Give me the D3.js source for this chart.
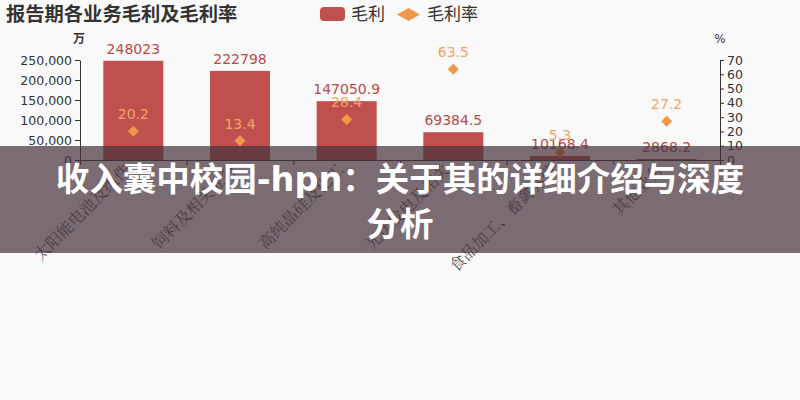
<!DOCTYPE html>
<html>
<head>
<meta charset="utf-8">
<script src="https://cdn.jsdelivr.net/npm/d3@7/dist/d3.min.js"></script>
<style>
  html, body { margin: 0; padding: 0; background: #f9f9f9; }
  svg { display: block; }
</style>
</head>
<body>
<svg id="chart" width="800" height="400"></svg>
<script>
const categories = ["太阳能电池及组件", "饲料及相关业务", "高纯晶硅及化工", "光伏发电及相关", "食品加工、畜禽养殖", "其他业务"];
const grossProfit = [248023, 222798, 147050.9, 69384.5, 10168.4, 2868.2];
const grossRate = [20.2, 13.4, 28.4, 63.5, 5.3, 27.2];
const leftTicks = [0, 50000, 100000, 150000, 200000, 250000];
const rightTicks = [0, 10, 20, 30, 40, 50, 60, 70];
const titleText = "报告期各业务毛利及毛利率";
const legendLabels = ["毛利", "毛利率"];
const overlayLines = ["收入囊中校园-hpn：关于其的详细介绍与深度", "分析"];

const svg = d3.select("#chart");
const W = 800, H = 400;
const m = { left: 80, right: 720, top: 60, bottom: 160 };
const barColor = "#c0504d", barLabelColor = "#b94a48";
const rateColor = "#f0984a", rateLabelColor = "#f2a468";
const sans = "'DejaVu Sans', sans-serif";
const cjk = "'Noto Sans CJK SC', sans-serif";

svg.append("rect").attr("width", W).attr("height", H).attr("fill", "#f9f9f9");

const x = d3.scaleBand().domain(categories).range([m.left, m.right]).paddingInner(0).paddingOuter(0);
const yL = d3.scaleLinear().domain([0, 250000]).range([m.bottom, m.top]);
const yR = d3.scaleLinear().domain([0, 70]).range([m.bottom, m.top]);

// title
svg.append("text").attr("x", 6).attr("y", 21).text(titleText)
  .attr("font-family", cjk).attr("font-weight", "bold").attr("font-size", 19.3).attr("fill", "#333");

// legend
const lg = svg.append("g");
lg.append("rect").attr("x", 320).attr("y", 7).attr("width", 25).attr("height", 14).attr("rx", 4).attr("fill", barColor);
lg.append("text").attr("x", 351).attr("y", 20).text(legendLabels[0]).attr("font-family", cjk).attr("font-size", 17).attr("fill", "#333");
lg.append("path").attr("d", "M397,14.5L408.5,8L420,14.5L408.5,21Z").attr("fill", rateColor);
lg.append("text").attr("x", 427).attr("y", 20).text(legendLabels[1]).attr("font-family", cjk).attr("font-size", 17).attr("fill", "#333");

// axes
const axL = d3.axisLeft(yL).tickValues(leftTicks).tickFormat(d3.format(",")).tickSize(5).tickSizeOuter(0);
const gL = svg.append("g").attr("transform", `translate(${m.left},0)`).call(axL);
gL.selectAll("text").attr("font-family", sans).attr("font-size", 12.5).attr("fill", "#333").attr("x", -8);
gL.selectAll("line,path").attr("stroke", "#333");

const axR = d3.axisRight(yR).tickValues(rightTicks).tickSize(4).tickSizeOuter(0);
const gR = svg.append("g").attr("transform", `translate(${m.right},0)`).call(axR);
gR.selectAll("text").attr("font-family", sans).attr("font-size", 12.5).attr("fill", "#333").attr("x", 7);
gR.selectAll("line,path").attr("stroke", "#333");

svg.append("text").attr("x", 79).attr("y", 43).attr("text-anchor", "middle").text("万")
  .attr("font-family", cjk).attr("font-size", 12).attr("font-weight", "bold").attr("fill", "#333");
svg.append("text").attr("x", 720).attr("y", 43).attr("text-anchor", "middle").text("%")
  .attr("font-family", sans).attr("font-size", 12).attr("fill", "#333");

// x axis
svg.append("line").attr("x1", m.left).attr("x2", m.right).attr("y1", m.bottom + 0.5).attr("y2", m.bottom + 0.5).attr("stroke", "#333");
const bounds = categories.map(c => x(c)).concat([m.right]);
svg.selectAll(".xt").data(bounds).enter().append("line")
  .attr("x1", d => d + 0.5).attr("x2", d => d + 0.5).attr("y1", m.bottom).attr("y2", m.bottom + 5).attr("stroke", "#333");

svg.selectAll(".xl").data(categories).enter().append("text")
  .attr("transform", d => `translate(${x(d) + x.bandwidth() / 2 - 2},${m.bottom + 11}) rotate(-45)`)
  .attr("text-anchor", "end").text(d => d)
  .attr("font-family", "'Noto Serif CJK SC', serif").attr("font-weight", 300).attr("font-size", 16).attr("fill", "#444");

// bars
const bw = 60;
svg.selectAll(".bar").data(grossProfit).enter().append("rect")
  .attr("x", (d, i) => x(categories[i]) + x.bandwidth() / 2 - bw / 2)
  .attr("y", d => yL(d)).attr("width", bw).attr("height", d => yL(0) - yL(d))
  .attr("fill", barColor);
svg.selectAll(".bl").data(grossProfit).enter().append("text")
  .attr("x", (d, i) => x(categories[i]) + x.bandwidth() / 2).attr("y", d => yL(d) - 7)
  .attr("text-anchor", "middle").text(d => d)
  .attr("font-family", sans).attr("font-size", 14).attr("fill", barLabelColor);

// rate markers
svg.selectAll(".rm").data(grossRate).enter().append("path")
  .attr("transform", (d, i) => `translate(${x(categories[i]) + x.bandwidth() / 2},${yR(d)})`)
  .attr("d", "M0,-5.5L5.5,0L0,5.5L-5.5,0Z").attr("fill", rateColor);
svg.selectAll(".rl").data(grossRate).enter().append("text")
  .attr("x", (d, i) => x(categories[i]) + x.bandwidth() / 2).attr("y", d => yR(d) - 12)
  .attr("text-anchor", "middle").text(d => d)
  .attr("font-family", sans).attr("font-size", 14).attr("fill", rateLabelColor);

// overlay banner
svg.append("rect").attr("x", 0).attr("y", 146).attr("width", W).attr("height", 107).attr("fill", "rgba(68,48,57,0.7)");
svg.selectAll(".ov").data(overlayLines).enter().append("text")
  .attr("x", 400).attr("y", (d, i) => 191 + i * 45).attr("text-anchor", "middle").text(d => d)
  .attr("font-family", "'DejaVu Sans', 'Noto Sans CJK SC', sans-serif").attr("font-weight", "bold").attr("font-size", 33.5).attr("fill", "#fff");
</script>
</body>
</html>
